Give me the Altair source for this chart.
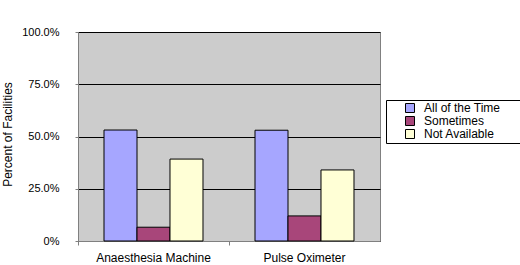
import altair as alt
import pandas as pd

categories = ["Anaesthesia Machine", "Pulse Oximeter"]
series = ["All of the Time", "Sometimes", "Not Available"]
all_of_time = [0.531, 0.530]
sometimes = [0.066, 0.120]
not_available = [0.392, 0.340]
colors = ["#A6A6FF", "#A8467A", "#FFFFD6"]
y_ticks = [0, 0.25, 0.5, 0.75, 1.0]

rows = []
for i, c in enumerate(categories):
    for s, vals in zip(series, [all_of_time, sometimes, not_available]):
        rows.append({"category": c, "series": s, "value": vals[i]})
df = pd.DataFrame(rows)

FONT = "Liberation Sans"

bars = alt.Chart(df).mark_bar(stroke="black", strokeWidth=1).encode(
    x=alt.X(
        "category:N",
        sort=categories,
        scale=alt.Scale(paddingInner=0, paddingOuter=0),
        axis=alt.Axis(
            title=None,
            labelAngle=0,
            labelFont=FONT,
            labelFontSize=12,
            labelColor="black",
            labelPadding=7,
            bandPosition=0,
            tickSize=4,
            tickColor="#808080",
            domainColor="#808080",
            grid=False,
        ),
    ),
    xOffset=alt.XOffset(
        "series:N",
        sort=series,
        scale=alt.Scale(paddingInner=0, paddingOuter=0.788),
    ),
    y=alt.Y(
        "value:Q",
        scale=alt.Scale(domain=[0, 1], nice=False),
        axis=alt.Axis(
            title="Percent of Facilities",
            titleFont=FONT,
            titleFontSize=12,
            titleFontWeight="normal",
            titleColor="black",
            titleX=-64,
            titleY=102,
            values=y_ticks,
            labelExpr="datum.value == 0 ? '0%' : format(datum.value, '.1%')",
            labelFont=FONT,
            labelFontSize=11,
            labelColor="black",
            labelPadding=16,
            tickSize=3,
            tickColor="#808080",
            domainColor="#808080",
            grid=True,
            gridColor="black",
            gridWidth=1,
        ),
    ),
    color=alt.Color(
        "series:N",
        sort=series,
        scale=alt.Scale(domain=series, range=colors),
        legend=alt.Legend(
            title=None,
            orient="none",
            legendX=308,
            legendY=68,
            symbolType="square",
            symbolSize=81,
            symbolStrokeColor="black",
            symbolStrokeWidth=1,
            symbolOffset=16,
            labelFont=FONT,
            labelFontSize=12,
            labelColor="black",
            labelOffset=8,
            labelExpr="datum.label + '\u2800\u2800'",
            rowPadding=-1,
            padding=2,
            strokeColor="black",
            fillColor="white",
        ),
    ),
)

chart = bars.properties(
    width=302,
    height=209,
    autosize=alt.AutoSizeParams(type="none"),
    padding={"left": 78, "top": 32, "right": 140, "bottom": 24},
    background="white",
).configure_view(
    fill="#CCCCCC",
    stroke="#808080",
    strokeWidth=1,
)

chart.save("out.html", embed_options={"renderer": "svg", "actions": False})
